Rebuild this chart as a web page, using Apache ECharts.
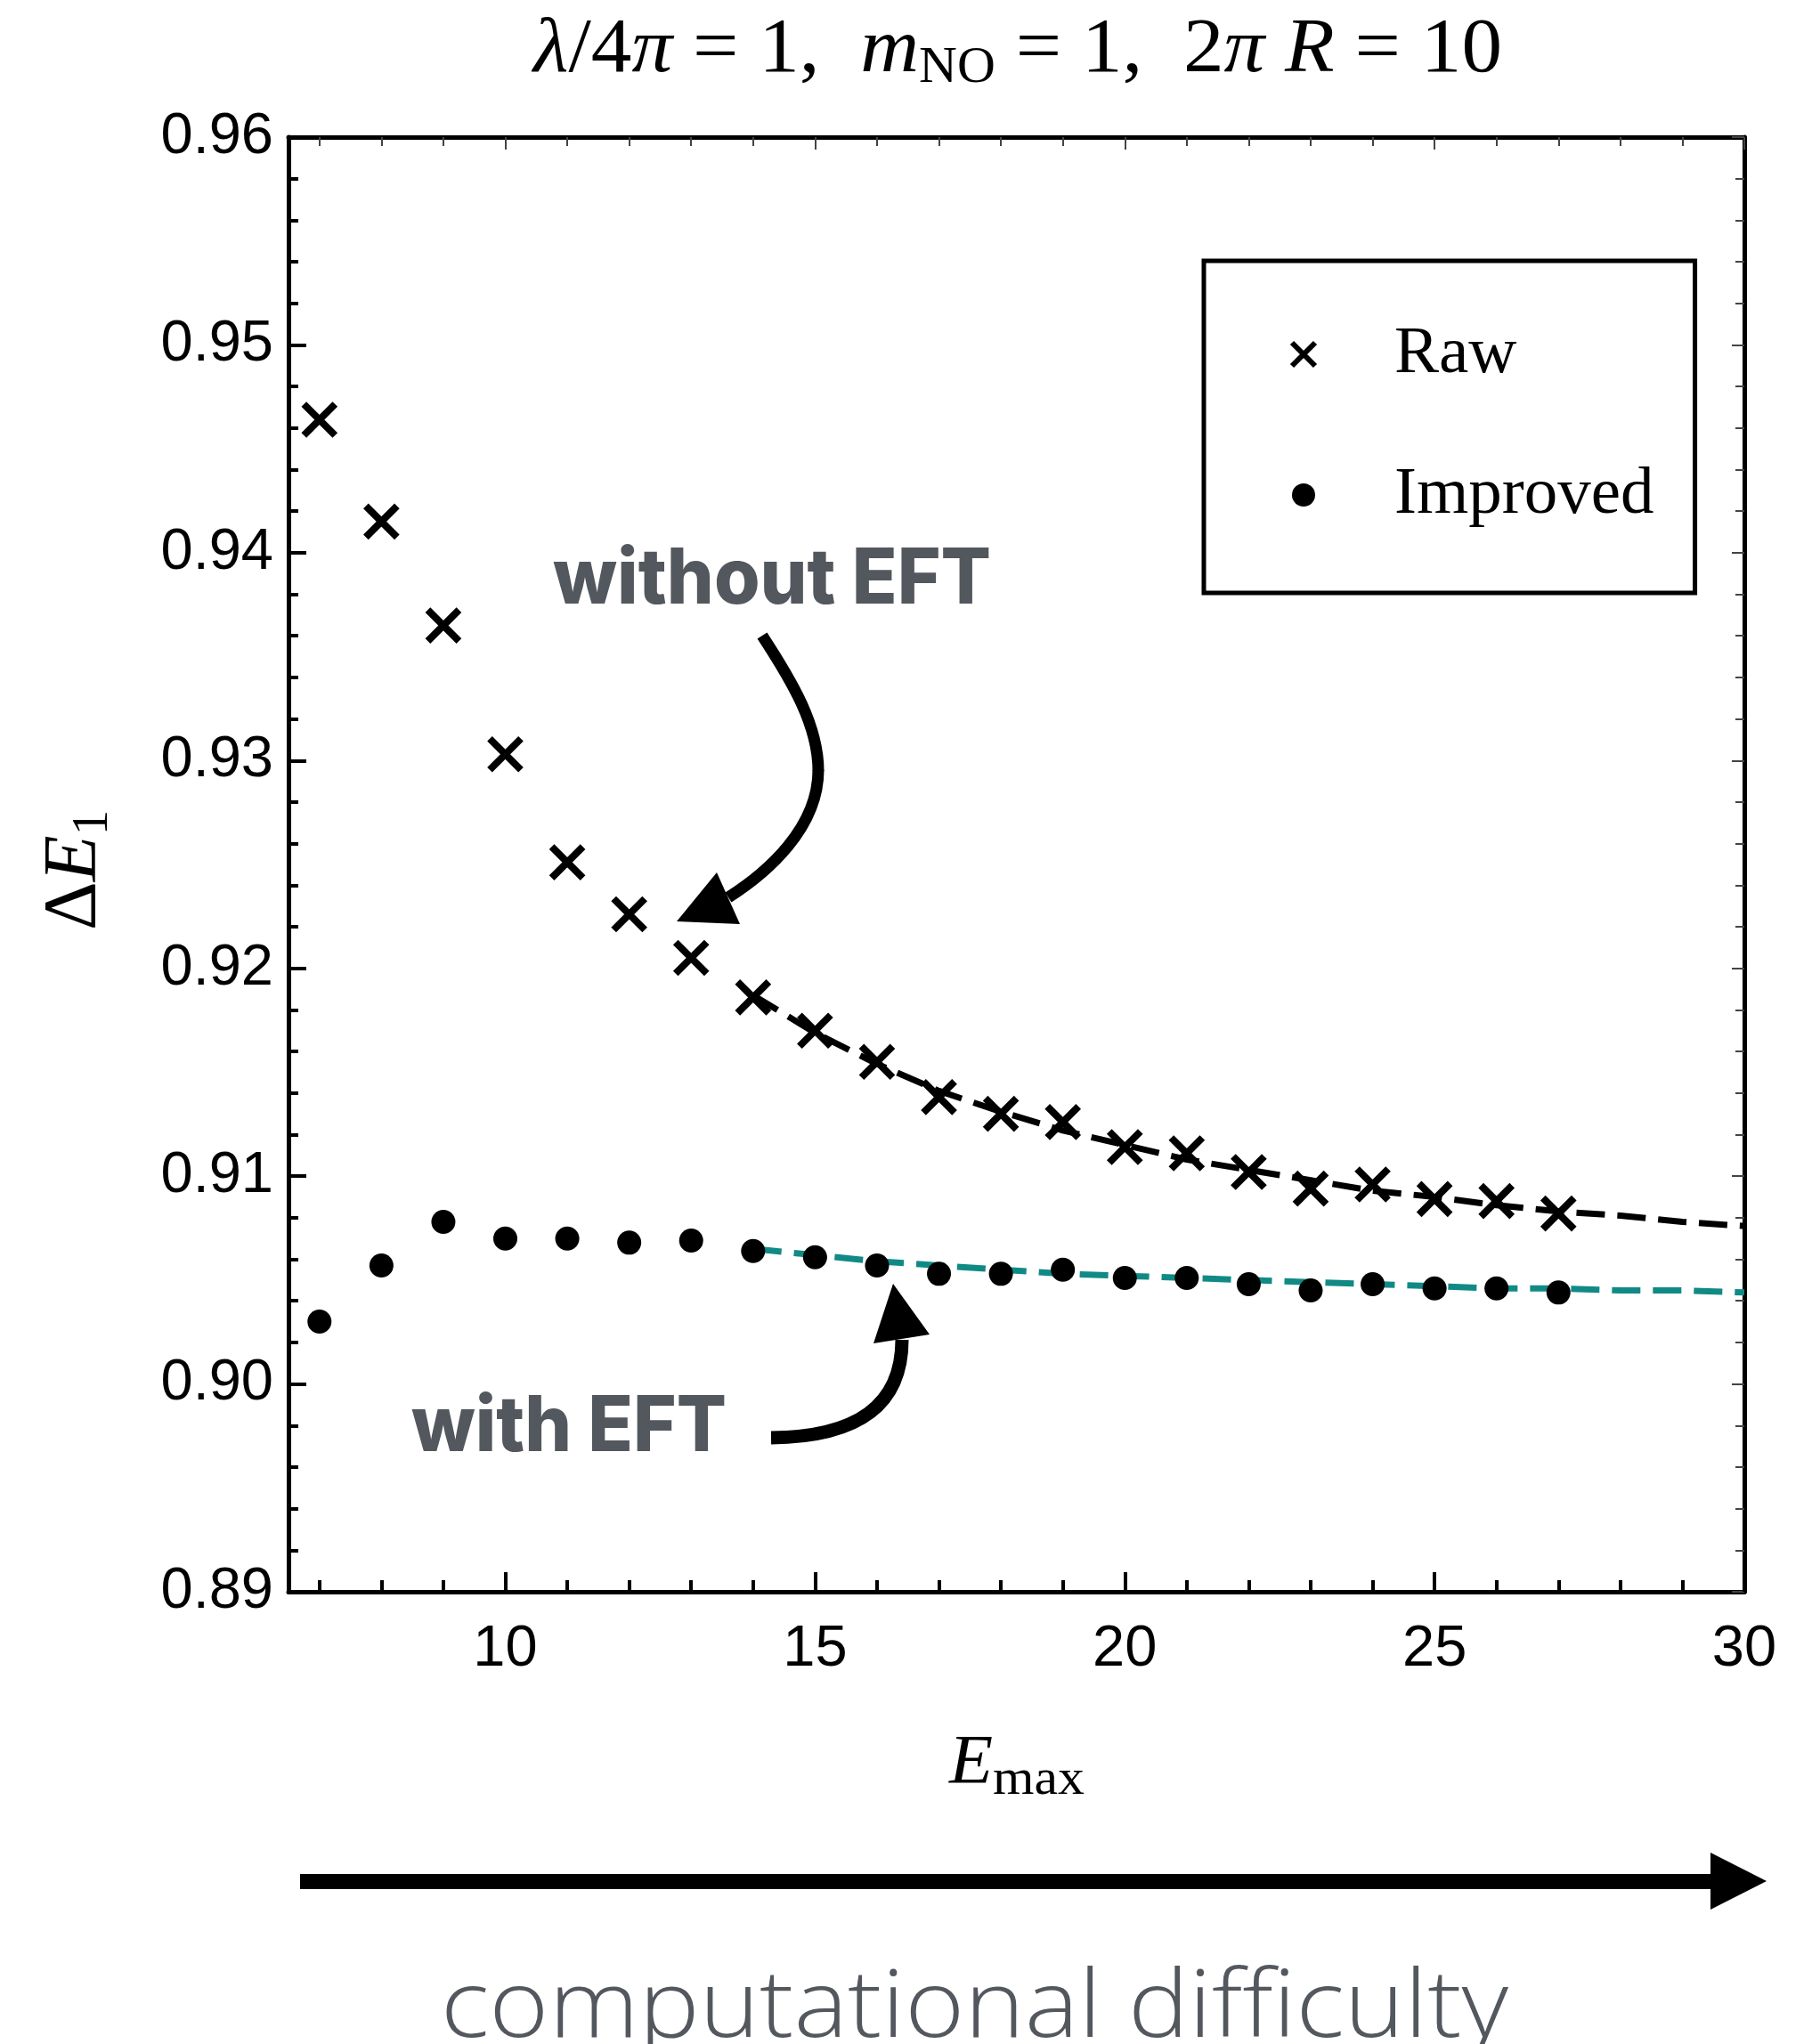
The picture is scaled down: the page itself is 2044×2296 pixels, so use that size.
<!DOCTYPE html>
<html>
<head>
<meta charset="utf-8">
<script src="https://cdn.jsdelivr.net/npm/echarts@6/dist/echarts.min.js"></script>
<style>
html,body{margin:0;padding:0;background:#fff;}
#chart{width:2044px;height:2296px;}
</style>
</head>
<body>
<div id="chart"></div>
<script>
// ---------------- data ----------------
const emax = [7, 8, 9, 10, 11, 12, 13, 14, 15, 16, 17, 18, 19, 20, 21, 22, 23, 24, 25, 26, 27];
const rawValues = [0.9464, 0.9415, 0.9365, 0.9303, 0.9251, 0.9226, 0.9205, 0.9186, 0.9170, 0.9155, 0.9138,
                   0.9130, 0.9126, 0.9114, 0.9111, 0.9102, 0.9094, 0.9096, 0.9089, 0.9088, 0.9082];
const improvedValues = [0.9030, 0.9057, 0.9078, 0.9070, 0.9070, 0.9068, 0.9069, 0.9064, 0.9061, 0.9057, 0.9053,
                        0.9053, 0.9055, 0.9051, 0.9051, 0.9048, 0.9045, 0.9048, 0.9046, 0.9046, 0.9044];
const fitX = [14, 15, 16, 17, 18, 19, 20, 21, 22, 23, 24, 25, 26, 27, 28, 29, 30];
const rawFit = [0.9187, 0.9169, 0.9154, 0.9141, 0.9131, 0.9122, 0.9115, 0.9108, 0.9103, 0.9098, 0.9093,
                0.9090, 0.9086, 0.9083, 0.9081, 0.9078, 0.9076];
const improvedFit = [0.9065, 0.9062, 0.9059, 0.9057, 0.9055, 0.9053, 0.9052, 0.9051, 0.9050, 0.9049, 0.9048,
                     0.9047, 0.9046, 0.9046, 0.9045, 0.9045, 0.9044];
const xMajorTicks = [10, 15, 20, 25, 30];
const xMinorTicks = [7, 8, 9, 11, 12, 13, 14, 16, 17, 18, 19, 21, 22, 23, 24, 26, 27, 28, 29];
const yMin = 0.89, yMax = 0.96, yStep = 0.01;
const seriesNames = ['Raw', 'Improved'];
const annotationTexts = ['without EFT', 'with EFT', 'computational difficulty'];

// ---------------- text helpers ----------------
const mctx = document.createElement('canvas').getContext('2d');
function fontCss(f) { return (f.style || 'normal') + ' ' + (f.weight || 'normal') + ' ' + f.size + 'px ' + f.family; }
function midOffset(f) {
  mctx.font = fontCss(f);
  mctx.textBaseline = 'middle';
  const m = mctx.measureText('H');
  mctx.textBaseline = 'alphabetic';
  return m.actualBoundingBoxDescent;
}
function textLine(pieces, o) {
  let x = 0; const children = [];
  pieces.forEach(p => {
    mctx.font = fontCss(p.f);
    const w = mctx.measureText(p.t).width;
    children.push({
      type: 'text', x: x, y: (p.dy || 0) - midOffset(p.f), silent: true,
      style: { text: p.t, fill: o.color || '#000', fontSize: p.f.size, fontFamily: p.f.family,
               fontStyle: p.f.style || 'normal', fontWeight: p.f.weight || 'normal',
               align: 'left', verticalAlign: 'middle' }
    });
    x += w;
  });
  const s = o.width ? o.width / x : 1;
  return { type: 'group', x: o.x, y: o.y, rotation: o.rotation || 0, scaleX: s, children: children, silent: true };
}
const SERIF = "'Liberation Serif'";
const F = (size, style) => ({ size: size, family: SERIF, style: style || 'normal' });

const titleEl = textLine([
  { t: 'λ', f: F(86, 'italic') }, { t: '/4', f: F(86) }, { t: 'π', f: F(86, 'italic') },
  { t: ' = 1,  ', f: F(86) }, { t: 'm', f: F(86, 'italic') }, { t: 'NO', f: F(56), dy: 12 },
  { t: ' = 1,  2', f: F(86) }, { t: 'π', f: F(86, 'italic') }, { t: ' ', f: F(86) },
  { t: 'R', f: F(86, 'italic') }, { t: ' = 10', f: F(86) }
], { x: 599, y: 80, width: 1088 });

const xNameEl = textLine([
  { t: 'E', f: F(78, 'italic') }, { t: 'max', f: F(58), dy: 12 }
], { x: 1066, y: 2003, width: 152 });

const yNameEl = textLine([
  { t: 'Δ', f: F(84) }, { t: 'E', f: F(84, 'italic') }, { t: '1', f: F(56), dy: 13 }
], { x: 107, y: 1045, width: 135, rotation: Math.PI / 2 });

const GREY = '#53575e';
const bold = { size: 86, family: 'Inter', weight: 800 };
const withoutEl = textLine([{ t: annotationTexts[0], f: bold }], { x: 621, y: 678, width: 492, color: GREY });
const withEl = textLine([{ t: annotationTexts[1], f: bold }], { x: 462, y: 1630, width: 354, color: GREY });
const compEl = textLine([{ t: annotationTexts[2], f: { size: 106, family: "'Open Sans'", weight: 300 } }],
  { x: 495, y: 2288, width: 1199, color: GREY });

const stroke = (w) => ({ fill: 'none', stroke: '#000', lineWidth: w, lineCap: 'butt' });
const arrows = [
  { type: 'bezierCurve', silent: true, shape: { x1: 856, y1: 714, cpx1: 890, cpy1: 766, cpx2: 919, cpy2: 815, x2: 919, y2: 866 }, style: stroke(13) },
  { type: 'bezierCurve', silent: true, shape: { x1: 919, y1: 865, cpx1: 919, cpy1: 930, cpx2: 862, cpy2: 980, x2: 818, y2: 1008 }, style: stroke(13) },
  { type: 'polygon', silent: true, shape: { points: [[760, 1035], [805, 980], [831, 1038]] }, style: { fill: '#000' } },
  { type: 'bezierCurve', silent: true, shape: { x1: 866, y1: 1615, cpx1: 961, cpy1: 1614, cpx2: 1013, cpy2: 1580, x2: 1013, y2: 1505 }, style: stroke(15) },
  { type: 'polygon', silent: true, shape: { points: [[1003, 1442], [981, 1509], [1044, 1499]] }, style: { fill: '#000' } },
  { type: 'rect', silent: true, shape: { x: 337, y: 2105, width: 1586, height: 17 }, style: { fill: '#000' } },
  { type: 'polygon', silent: true, shape: { points: [[1921, 2081], [1984, 2113], [1921, 2145]] }, style: { fill: '#000' } }
];

// ---------------- chart ----------------
const XPATH = 'path://M0,0L10,10M10,0L0,10';
const axisLineStyle = { show: true, onZero: false, lineStyle: { color: '#000', width: 5 } };
const tickFont = { fontSize: 65, fontFamily: "'Liberation Sans'", color: '#000' };
const xBase = { type: 'value', min: 6.5, max: 30, splitLine: { show: false }, minorTick: { show: false } };

const option = {
  backgroundColor: '#fff',
  animation: false,
  grid: { left: 324, right: 85, top: 154, bottom: 508, containLabel: false, outerBoundsMode: 'none' },
  xAxis: [
    Object.assign({}, xBase, { position: 'bottom', axisLine: axisLineStyle,
      axisTick: { show: true, inside: true, length: 22, lineStyle: { color: '#000', width: 4 }, customValues: xMajorTicks },
      axisLabel: Object.assign({ customValues: xMajorTicks, margin: 33 }, tickFont) }),
    Object.assign({}, xBase, { position: 'bottom', axisLine: { show: false },
      axisTick: { show: true, inside: true, length: 13, lineStyle: { color: '#000', width: 4 }, customValues: xMinorTicks },
      axisLabel: { show: false } }),
    Object.assign({}, xBase, { position: 'top', axisLine: axisLineStyle,
      axisTick: { show: true, inside: true, length: 14, lineStyle: { color: '#444', width: 2 }, customValues: xMajorTicks },
      axisLabel: { show: false } }),
    Object.assign({}, xBase, { position: 'top', axisLine: { show: false },
      axisTick: { show: true, inside: true, length: 10, lineStyle: { color: '#444', width: 2 }, customValues: xMinorTicks },
      axisLabel: { show: false } })
  ],
  yAxis: [
    { type: 'value', min: yMin, max: yMax, interval: yStep, position: 'left', axisLine: axisLineStyle,
      axisTick: { show: true, inside: true, length: 20, lineStyle: { color: '#000', width: 4 } },
      minorTick: { show: true, splitNumber: 5, length: 11, lineStyle: { color: '#000', width: 4 } },
      axisLabel: Object.assign({ margin: 17, showMinLabel: true, showMaxLabel: true, formatter: v => v.toFixed(2) }, tickFont),
      splitLine: { show: false }, minorSplitLine: { show: false } },
    { type: 'value', min: yMin, max: yMax, interval: yStep, position: 'right', axisLine: axisLineStyle,
      axisTick: { show: true, inside: true, length: 14, lineStyle: { color: '#444', width: 2 } },
      minorTick: { show: true, splitNumber: 5, length: 10, lineStyle: { color: '#444', width: 2 } },
      axisLabel: { show: false }, splitLine: { show: false }, minorSplitLine: { show: false } }
  ],
  legend: {
    orient: 'vertical', left: 1352, top: 293, padding: [65, 46, 70, 96], itemGap: 78,
    itemWidth: 26, itemHeight: 26, borderColor: '#000', borderWidth: 5, backgroundColor: '#fff',
    selectedMode: false,
    textStyle: { fontFamily: SERIF, fontSize: 75, color: '#000', lineHeight: 80, padding: [0, 0, 0, 84] },
    data: [
      { name: seriesNames[0], icon: XPATH, itemStyle: { color: '#000', borderColor: '#000', borderWidth: 6, opacity: 1 } },
      { name: seriesNames[1], icon: 'circle', itemStyle: { color: '#000', borderWidth: 0, opacity: 1 } }
    ]
  },
  series: [
    { type: 'line', name: 'rawFit', xAxisIndex: 0, yAxisIndex: 0, data: fitX.map((x, i) => [x, rawFit[i]]),
      symbol: 'none', showSymbol: false, silent: true, z: 2,
      lineStyle: { color: '#000', width: 7, type: [32, 14], opacity: 1 } },
    { type: 'line', name: 'improvedFit', xAxisIndex: 0, yAxisIndex: 0, data: fitX.map((x, i) => [x, improvedFit[i]]),
      symbol: 'none', showSymbol: false, silent: true, z: 2,
      lineStyle: { color: '#118a86', width: 7, type: [32, 14], opacity: 1 } },
    { type: 'scatter', name: seriesNames[0], xAxisIndex: 0, yAxisIndex: 0, data: emax.map((x, i) => [x, rawValues[i]]),
      symbol: XPATH, symbolSize: 35, z: 3, silent: true,
      itemStyle: { color: '#000', borderColor: '#000', borderWidth: 8, opacity: 1 } },
    { type: 'scatter', name: seriesNames[1], xAxisIndex: 0, yAxisIndex: 0, data: emax.map((x, i) => [x, improvedValues[i]]),
      symbol: 'circle', symbolSize: 27, z: 3, silent: true,
      itemStyle: { color: '#000', borderWidth: 0, opacity: 1 } }
  ],
  graphic: [titleEl, xNameEl, yNameEl, withoutEl, withEl, compEl].concat(arrows)
};

const chart = echarts.init(document.getElementById('chart'), null, { renderer: 'canvas' });
chart.setOption(option);
</script>
</body>
</html>
